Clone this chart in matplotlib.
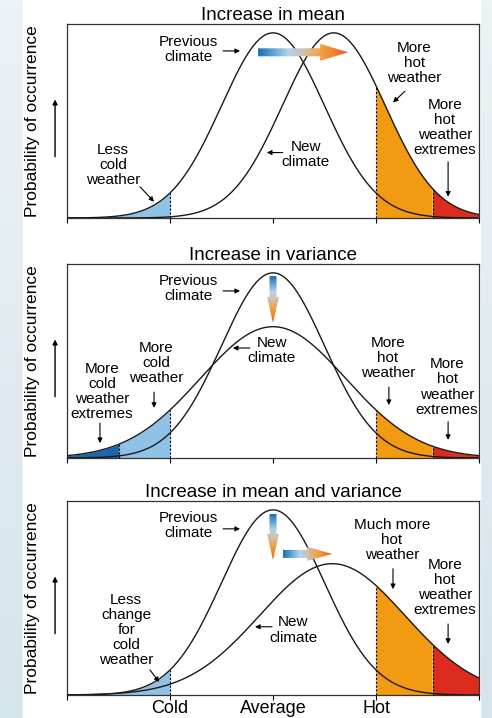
import numpy as np
import matplotlib
matplotlib.use('Agg')
import matplotlib.pyplot as plt
from matplotlib.patches import Polygon, Rectangle
from matplotlib.colors import LinearSegmentedColormap

plt.rcParams['font.family'] = ['Liberation Sans', 'DejaVu Sans']

# 数据: 温度分布 (以标准差为单位)
titles = ['Increase in mean', 'Increase in variance', 'Increase in mean and variance']
prev_mean = [0.0, 0.0, 0.0]
prev_sd = [1.0, 1.0, 1.0]
new_mean = [1.18, 0.0, 1.15]
new_sd = [1.0, 1.41, 1.41]
cold_edge = -2.0
hot_edge = 2.0
cold_extreme = -3.0
hot_extreme = 3.1
tick_pos = [-4, -2, 0, 2, 4]
tick_labels = ['', 'Cold', 'Average', 'Hot', '']

X_MIN, X_MAX = -4, 4
Y_MAX = 0.418

C_LIGHT = '#8fc2e6'
C_DARK = '#1d66ae'
C_ORANGE = '#f29a12'
C_RED = '#db2c1f'

arrow_cmap = LinearSegmentedColormap.from_list(
    'warm', ['#1b6db3', '#5fa3d6', '#b3d3ea', '#cdc2b0', '#f2a44a', '#f0862a', '#e9522a'])


def pdf(x, m, s):
    return np.exp(-0.5 * ((x - m) / s) ** 2) / (s * np.sqrt(2 * np.pi))


def grad_arrow(ax, x0, y0, x1, y1, shaft, head_w, head_l):
    # 在像素空间里画箭头, 再转回数据坐标
    p0 = ax.transData.transform((x0, y0))
    p1 = ax.transData.transform((x1, y1))
    d = p1 - p0
    L = np.hypot(*d)
    u = d / L
    n = np.array([-u[1], u[0]])
    b = p0 + u * (L - head_l)
    pts = np.array([p0 + n * shaft / 2, b + n * shaft / 2, b + n * head_w / 2, p1,
                    b - n * head_w / 2, b - n * shaft / 2, p0 - n * shaft / 2])
    pts = ax.transData.inverted().transform(pts)
    poly = Polygon(pts, closed=True, facecolor='none', edgecolor='none')
    ax.add_patch(poly)
    g = np.linspace(0, 1, 256)
    img = g[None, :] if abs(u[0]) > abs(u[1]) else g[:, None]
    im = ax.imshow(img, cmap=arrow_cmap, extent=[pts[:, 0].min(), pts[:, 0].max(),
                                                pts[:, 1].min(), pts[:, 1].max()],
                   aspect='auto', origin='upper', zorder=5, interpolation='bilinear')
    im.set_clip_path(poly)
    ax.set_xlim(X_MIN, X_MAX)
    ax.set_ylim(0, Y_MAX)


def note(ax, txt, x, y, a0, a1):
    ax.text(x, y, txt, ha='center', va='center', fontsize=11, linespacing=1.1, zorder=6)
    ax.annotate('', xy=a1, xytext=a0,
                arrowprops=dict(arrowstyle='-|>', lw=0.8, color='k', mutation_scale=7,
                                shrinkA=0, shrinkB=0), zorder=6)


def shade(ax, x, y, lo, hi, color):
    mask = (x >= lo) & (x <= hi)
    ax.fill_between(x[mask], 0, y[mask], color=color, lw=0, zorder=1)


def dotted(ax, xv, m, s):
    ax.plot([xv, xv], [0, pdf(xv, m, s)], color='k', lw=0.8, ls=(0, (2, 1.5)), zorder=3)


fig = plt.figure(figsize=(4.92, 7.18), dpi=100)

# 背景
bg = fig.add_axes([0, 0, 1, 1], zorder=-1)
bg.axis('off')
bg_cmap = LinearSegmentedColormap.from_list('bg', ['#ecf2f6', '#d5e5ec'])
bg.imshow(np.linspace(0, 1, 100)[:, None], cmap=bg_cmap, aspect='auto', extent=[0, 1, 0, 1])
bg.add_patch(Rectangle((23 / 492, 0), 457 / 492, 1, color='white'))
bg.set_xlim(0, 1)
bg.set_ylim(0, 1)

ax_bottoms = [500 / 718, 260 / 718, 23 / 718]
axes = []
x = np.linspace(X_MIN, X_MAX, 801)
for i in range(3):
    ax = fig.add_axes([67 / 492, ax_bottoms[i], 412 / 492, 194 / 718])
    axes.append(ax)
    ax.set_facecolor('white')
    y_prev = pdf(x, prev_mean[i], prev_sd[i])
    y_new = pdf(x, new_mean[i], new_sd[i])

    if i == 1:
        shade(ax, x, y_new, X_MIN, cold_extreme, C_DARK)
        shade(ax, x, y_new, cold_extreme, cold_edge, C_LIGHT)
        dotted(ax, cold_extreme, new_mean[i], new_sd[i])
        dotted(ax, cold_edge, new_mean[i], new_sd[i])
    else:
        shade(ax, x, y_prev, X_MIN, cold_edge, C_LIGHT)
        dotted(ax, cold_edge, prev_mean[i], prev_sd[i])
    shade(ax, x, y_new, hot_edge, hot_extreme, C_ORANGE)
    shade(ax, x, y_new, hot_extreme, X_MAX, C_RED)
    dotted(ax, hot_edge, new_mean[i], new_sd[i])
    dotted(ax, hot_extreme, new_mean[i], new_sd[i])

    ax.plot(x, y_prev, color='#1a1a1a', lw=1.0, zorder=4)
    ax.plot(x, y_new, color='#1a1a1a', lw=1.0, zorder=4)

    ax.set_xlim(X_MIN, X_MAX)
    ax.set_ylim(0, Y_MAX)
    ax.set_yticks([])
    ax.set_xticks(tick_pos)
    ax.set_xticklabels(tick_labels if i == 2 else [''] * 5, fontsize=13)
    ax.tick_params(axis='x', direction='out', length=3.5, width=0.8, pad=0)
    for sp in ax.spines.values():
        sp.set_linewidth(0.9)
        sp.set_color('#333333')
    ax.set_title(titles[i], fontsize=13.5, pad=3)

    ax.text(-0.083, 0.5, 'Probability of occurrence', rotation=90, transform=ax.transAxes,
            ha='center', va='center', fontsize=12.5)
    ax.annotate('', xy=(-0.029, 0.611), xytext=(-0.029, 0.316), xycoords='axes fraction',
                textcoords='axes fraction', annotation_clip=False,
                arrowprops=dict(arrowstyle='-|>', lw=1.0, color='k', mutation_scale=7,
                                shrinkA=0, shrinkB=0))

ax1, ax2, ax3 = axes

# 上图: 均值增加
note(ax1, 'Previous\nclimate', -1.65, 0.364, (-0.97, 0.360), (-0.64, 0.360))
note(ax1, 'New\nclimate', 0.64, 0.136, (0.19, 0.141), (-0.12, 0.141))
note(ax1, 'Less\ncold\nweather', -3.11, 0.115, (-2.58, 0.067), (-2.31, 0.035))
note(ax1, 'More\nhot\nweather', 2.74, 0.334, (2.56, 0.273), (2.33, 0.249))
note(ax1, 'More\nhot\nweather\nextremes', 3.34, 0.195, (3.40, 0.121), (3.40, 0.046))
grad_arrow(ax1, -0.29, 0.357, 1.46, 0.357, 8, 17, 28)

# 中图: 方差增加
note(ax2, 'Previous\nclimate', -1.65, 0.366, (-0.97, 0.360), (-0.64, 0.360))
note(ax2, 'New\nclimate', -0.02, 0.231, (-0.45, 0.237), (-0.78, 0.237))
note(ax2, 'More\ncold\nweather\nextremes', -3.32, 0.144, (-3.36, 0.075), (-3.36, 0.032))
note(ax2, 'More\ncold\nweather', -2.27, 0.205, (-2.31, 0.142), (-2.31, 0.108))
note(ax2, 'More\nhot\nweather', 2.23, 0.216, (2.25, 0.153), (2.25, 0.114))
note(ax2, 'More\nhot\nweather\nextremes', 3.38, 0.153, (3.40, 0.078), (3.40, 0.039))
grad_arrow(ax2, 0.0, 0.392, 0.0, 0.291, 7, 12, 26)

# 下图: 均值和方差都增加
note(ax3, 'Previous\nclimate', -1.65, 0.366, (-0.97, 0.358), (-0.64, 0.358))
note(ax3, 'New\nclimate', 0.39, 0.140, (-0.02, 0.147), (-0.35, 0.147))
note(ax3, 'Less\nchange\nfor\ncold\nweather', -2.85, 0.140, (-2.39, 0.054), (-2.21, 0.028))
note(ax3, 'Much more\nhot\nweather', 2.31, 0.334, (2.33, 0.272), (2.33, 0.228))
note(ax3, 'More\nhot\nweather\nextremes', 3.34, 0.231, (3.40, 0.153), (3.40, 0.110))
grad_arrow(ax3, 0.0, 0.390, 0.0, 0.291, 7, 12, 26)
grad_arrow(ax3, 0.19, 0.304, 1.15, 0.304, 8, 14, 25)

fig.savefig('out.png', dpi=100)
